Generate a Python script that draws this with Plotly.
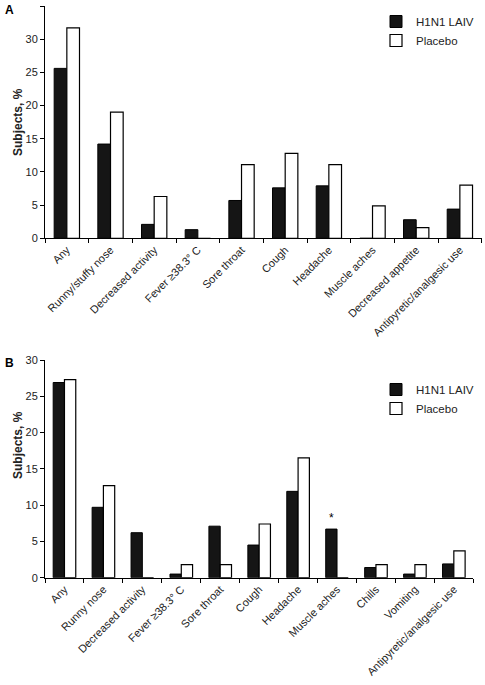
import plotly.graph_objects as go

# Panel A data
cats_a = ["Any", "Runny/stuffy nose", "Decreased activity", "Fever ≥38.3° C", "Sore throat",
          "Cough", "Headache", "Muscle aches", "Decreased appetite", "Antipyretic/analgesic use"]
laiv_a = [25.6, 14.2, 2.1, 1.3, 5.7, 7.6, 7.9, 0, 2.8, 4.4]
placebo_a = [31.7, 19.0, 6.3, 0, 11.1, 12.8, 11.1, 4.9, 1.6, 8.0]

# Panel B data
cats_b = ["Any", "Runny nose", "Decreased activity", "Fever ≥38.3° C", "Sore throat", "Cough",
          "Headache", "Muscle aches", "Chills", "Vomiting", "Antipyretic/analgesic use"]
laiv_b = [26.9, 9.7, 6.2, 0.5, 7.1, 4.5, 11.9, 6.7, 1.4, 0.5, 1.9]
placebo_b = [27.3, 12.7, 0, 1.8, 1.8, 7.4, 16.5, 0, 1.8, 1.8, 3.7]

y_ticks_a = [0, 5, 10, 15, 20, 25, 30, 35]
y_ticks_b = [0, 5, 10, 15, 20, 25, 30]

FONT = "Liberation Sans, Arial, sans-serif"
DARK = "#151515"
W, H = 485, 685

fig = go.Figure()
fig.add_trace(go.Bar(x=cats_a, y=laiv_a, name="H1N1 LAIV", xaxis="x", yaxis="y",
                     marker=dict(color=DARK, line=dict(color="black", width=1)), legend="legend"))
fig.add_trace(go.Bar(x=cats_a, y=placebo_a, name="Placebo", xaxis="x", yaxis="y",
                     marker=dict(color="white", line=dict(color="black", width=1.2)), legend="legend"))
fig.add_trace(go.Bar(x=cats_b, y=laiv_b, name="H1N1 LAIV", xaxis="x2", yaxis="y2",
                     marker=dict(color=DARK, line=dict(color="black", width=1)), legend="legend2"))
fig.add_trace(go.Bar(x=cats_b, y=placebo_b, name="Placebo", xaxis="x2", yaxis="y2",
                     marker=dict(color="white", line=dict(color="black", width=1.2)), legend="legend2"))

tickfont = dict(family=FONT, size=11, color="#222222")
xcommon = dict(type="category", showline=True, linecolor="black", linewidth=1,
               ticks="outside", tickson="boundaries", ticklen=4, tickcolor="black",
               tickangle=-45, tickfont=tickfont, showgrid=False, automargin=False, fixedrange=True)
ycommon = dict(showline=True, linecolor="black", linewidth=1, ticks="outside", ticklen=4,
               tickcolor="black", tickfont=tickfont, showgrid=False, zeroline=False,
               automargin=False, dtick=5)

legfont = dict(family=FONT, size=11.5, color="#222222")
fig.update_layout(
    width=W, height=H,
    margin=dict(l=0, r=0, t=0, b=0),
    paper_bgcolor="white", plot_bgcolor="white",
    barmode="group", bargap=0.42, bargroupgap=0,
    font=dict(family=FONT, color="#222222"),
    xaxis=dict(domain=[45 / W, 481.7 / W], anchor="y", **xcommon),
    yaxis=dict(domain=[1 - 238.3 / H, 1 - 6 / H], anchor="x", range=[0, 35],
               tickvals=y_ticks_a, **ycommon),
    xaxis2=dict(domain=[45 / W, 473.3 / W], anchor="y2", **xcommon),
    yaxis2=dict(domain=[1 - 577.7 / H, 1 - 360 / H], anchor="x2", range=[0, 30],
                tickvals=y_ticks_b, **ycommon),
    legend=dict(x=376 / W, y=1 - 7 / H, xanchor="left", yanchor="top",
                font=legfont, bgcolor="rgba(0,0,0,0)", itemwidth=30, tracegroupgap=0),
    legend2=dict(x=376 / W, y=1 - 375 / H, xanchor="left", yanchor="top",
                 font=legfont, bgcolor="rgba(0,0,0,0)", itemwidth=30, tracegroupgap=0),
    showlegend=True,
)

annos = [
    dict(text="<b>A</b>", x=3 / W, y=1 - 10 / H, xref="paper", yref="paper",
         xanchor="left", yanchor="middle", showarrow=False, font=dict(family=FONT, size=12, color="black")),
    dict(text="<b>B</b>", x=3 / W, y=1 - 363 / H, xref="paper", yref="paper",
         xanchor="left", yanchor="middle", showarrow=False, font=dict(family=FONT, size=12, color="black")),
    dict(text="<b>Subjects, %</b>", x=18 / W, y=1 - 122 / H, xref="paper", yref="paper",
         xanchor="center", yanchor="middle",
         textangle=-90, showarrow=False, font=dict(family=FONT, size=12, color="#222222")),
    dict(text="<b>Subjects, %</b>", x=18 / W, y=1 - 445 / H, xref="paper", yref="paper",
         xanchor="center", yanchor="middle",
         textangle=-90, showarrow=False, font=dict(family=FONT, size=12, color="#222222")),
    dict(text="*", x="Muscle aches", y=laiv_b[cats_b.index("Muscle aches")], xref="x2", yref="y2",
         xshift=-6, yshift=2, yanchor="bottom", showarrow=False,
         font=dict(family=FONT, size=12, color="black")),
]
fig.update_layout(annotations=annos)

fig.write_html("out.html", config={"displayModeBar": False},
               post_script="document.body.style.margin='0';")
